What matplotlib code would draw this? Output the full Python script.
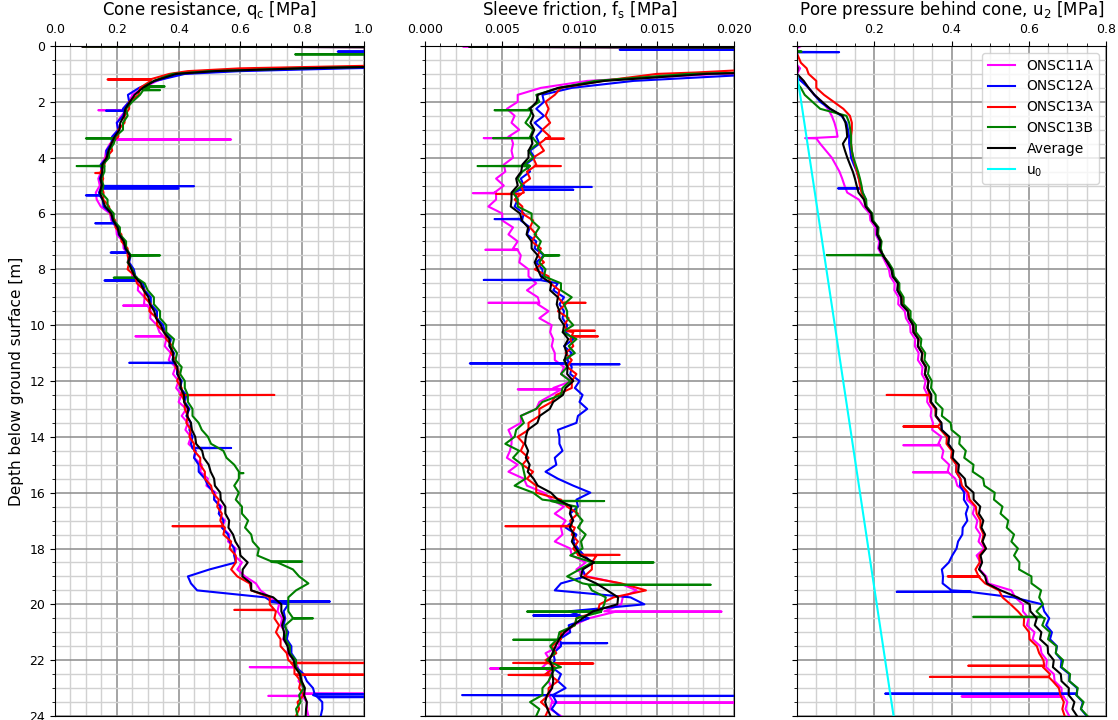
#!/usr/bin/env python

"""
CPT profiles (qc, fs, u2) for the ONSC soundings with the average profile
"""

import numpy as np
import matplotlib
matplotlib.use('Agg')
import matplotlib.pyplot as plt
from matplotlib.ticker import MultipleLocator

# Sounding names and line colours
soundings = ['ONSC11A', 'ONSC12A', 'ONSC13A', 'ONSC13B']
colours   = ['magenta', 'blue', 'red', 'green']

# Regular sampling depths below 1 m [m]
depth_grid = np.arange(1.0, 24.01, 0.25)

#---------------------------------------------------------------------------#
#                    Cone resistance qc [MPa]                               #
#---------------------------------------------------------------------------#

qc_top_z = [0.02, 0.05, 0.6, 0.7, 0.8, 0.9]
qc_top_11A = [0.09, 1.5, 1.5, 1.3, 0.85, 0.55]
qc_top_12A = [0.09, 1.5, 1.5, 1.4, 0.95, 0.60]
qc_top_13A = [0.09, 1.5, 1.5, 1.05, 0.60, 0.43]
qc_top_13B = [0.09, 1.5, 1.5, 1.2, 0.80, 0.50]

qc_11A = [0.40, 0.33, 0.285, 0.25, 0.24, 0.22, 0.215, 0.20,
          0.205, 0.185, 0.178, 0.165, 0.162, 0.148, 0.15, 0.14,
          0.145, 0.132, 0.135, 0.148, 0.178, 0.182, 0.198, 0.20,
          0.22, 0.222, 0.24, 0.235, 0.25, 0.25, 0.27, 0.268,
          0.29, 0.288, 0.31, 0.308, 0.33, 0.338, 0.36, 0.355,
          0.375, 0.368, 0.39, 0.382, 0.40, 0.392, 0.41, 0.40,
          0.425, 0.41, 0.43, 0.422, 0.44, 0.432, 0.455, 0.45,
          0.475, 0.47, 0.495, 0.49, 0.52, 0.515, 0.54, 0.53,
          0.55, 0.54, 0.565, 0.56, 0.585, 0.58, 0.605, 0.59,
          0.615, 0.65, 0.665, 0.695, 0.725, 0.72, 0.735, 0.73,
          0.745, 0.738, 0.755, 0.752, 0.775, 0.772, 0.795, 0.788,
          0.805, 0.795, 0.815, 0.815, 0.82]
qc_12A = [0.42, 0.325, 0.272, 0.236, 0.24, 0.22, 0.22, 0.20,
          0.205, 0.185, 0.182, 0.166, 0.168, 0.148, 0.153, 0.145,
          0.153, 0.142, 0.154, 0.157, 0.182, 0.186, 0.205, 0.206,
          0.225, 0.226, 0.245, 0.24, 0.255, 0.26, 0.285, 0.29,
          0.31, 0.31, 0.33, 0.33, 0.35, 0.355, 0.375, 0.37,
          0.385, 0.38, 0.395, 0.395, 0.41, 0.405, 0.425, 0.42,
          0.435, 0.425, 0.44, 0.435, 0.445, 0.44, 0.455, 0.45,
          0.465, 0.465, 0.485, 0.495, 0.515, 0.515, 0.535, 0.53,
          0.545, 0.54, 0.56, 0.565, 0.58, 0.58, 0.585, 0.50,
          0.43, 0.44, 0.46, 0.68, 0.755, 0.74, 0.745, 0.74,
          0.755, 0.75, 0.765, 0.765, 0.78, 0.78, 0.805, 0.815,
          0.835, 0.835, 0.865, 0.865, 0.86]
qc_13A = [0.37, 0.31, 0.275, 0.27, 0.24, 0.24, 0.225, 0.225,
          0.205, 0.205, 0.18, 0.185, 0.165, 0.16, 0.148, 0.156,
          0.15, 0.157, 0.156, 0.175, 0.178, 0.195, 0.196, 0.215,
          0.215, 0.235, 0.235, 0.24, 0.235, 0.26, 0.265, 0.29,
          0.29, 0.31, 0.305, 0.33, 0.33, 0.355, 0.36, 0.38,
          0.375, 0.39, 0.39, 0.405, 0.395, 0.41, 0.405, 0.42,
          0.42, 0.43, 0.425, 0.44, 0.435, 0.45, 0.45, 0.47,
          0.47, 0.485, 0.485, 0.505, 0.51, 0.53, 0.525, 0.54,
          0.535, 0.55, 0.545, 0.57, 0.565, 0.585, 0.585, 0.57,
          0.59, 0.63, 0.635, 0.695, 0.695, 0.715, 0.71, 0.725,
          0.715, 0.73, 0.73, 0.75, 0.755, 0.775, 0.775, 0.795,
          0.79, 0.805, 0.785, 0.79, 0.78]
qc_13B = [0.38, 0.32, 0.305, 0.275, 0.25, 0.23, 0.235, 0.22,
          0.22, 0.195, 0.19, 0.175, 0.175, 0.155, 0.16, 0.15,
          0.157, 0.15, 0.17, 0.17, 0.19, 0.19, 0.21, 0.21,
          0.23, 0.23, 0.25, 0.235, 0.25, 0.26, 0.29, 0.30,
          0.32, 0.32, 0.34, 0.34, 0.36, 0.36, 0.385, 0.38,
          0.395, 0.39, 0.41, 0.405, 0.42, 0.42, 0.43, 0.43,
          0.445, 0.445, 0.465, 0.475, 0.495, 0.505, 0.545, 0.555,
          0.58, 0.595, 0.595, 0.58, 0.595, 0.585, 0.605, 0.605,
          0.625, 0.615, 0.635, 0.64, 0.66, 0.655, 0.72, 0.77,
          0.79, 0.82, 0.78, 0.755, 0.755, 0.755, 0.775, 0.745,
          0.75, 0.745, 0.76, 0.76, 0.78, 0.78, 0.795, 0.795,
          0.805, 0.79, 0.795, 0.78, 0.785]

# Thin layers / spikes: (depth, peak value, value either side)
qc_11A_spk = [(2.3, 0.14, 0.23), (3.35, 0.57, 0.195), (9.3, 0.22, 0.30),
              (10.4, 0.26, 0.35), (22.25, 0.63, 0.785), (23.2, 1.2, 0.80),
              (23.28, 0.69, 0.80)]
qc_12A_spk = [(0.2, 0.915, 1.5), (2.32, 0.165, 0.225), (5.02, 0.45, 0.15),
              (5.1, 0.40, 0.148), (5.35, 0.10, 0.145), (6.35, 0.13, 0.19),
              (7.4, 0.18, 0.235), (8.4, 0.16, 0.27), (11.35, 0.24, 0.385),
              (14.4, 0.57, 0.445), (19.9, 0.89, 0.70), (23.22, 1.2, 0.84),
              (23.32, 1.2, 0.85)]
qc_13A_spk = [(1.2, 0.17, 0.31), (4.55, 0.13, 0.152), (12.5, 0.71, 0.41),
              (17.2, 0.38, 0.545), (20.2, 0.58, 0.71), (22.1, 1.2, 0.765),
              (22.52, 1.2, 0.78)]
qc_13B_spk = [(0.3, 0.777, 1.5), (1.45, 0.355, 0.29), (1.58, 0.34, 0.285),
              (3.31, 0.10, 0.195), (4.3, 0.07, 0.16), (7.5, 0.34, 0.245),
              (8.3, 0.19, 0.265), (15.3, 0.61, 0.595), (18.47, 0.80, 0.70),
              (20.5, 0.835, 0.77)]

#---------------------------------------------------------------------------#
#                    Sleeve friction fs [kPa]                               #
#---------------------------------------------------------------------------#

fs_top_z = [0.03, 0.06, 0.85, 0.95]
fs_top_11A = [2.5, 25.0, 25.0, 24.0]
fs_top_12A = [3.0, 25.0, 25.0, 25.0]
fs_top_13A = [3.0, 25.0, 21.0, 17.5]
fs_top_13B = [3.0, 25.0, 24.0, 21.0]

fs_11A = [19.0, 10.5, 7.5, 6.0, 6.0, 5.3, 5.8, 5.6,
          6.1, 5.4, 5.7, 5.6, 5.7, 5.1, 5.2, 4.6,
          5.1, 4.5, 4.6, 4.1, 5.0, 5.0, 5.7, 5.4,
          6.0, 5.7, 6.2, 6.1, 6.7, 6.7, 7.2, 6.6,
          7.3, 7.3, 8.0, 7.4, 8.2, 8.1, 8.3, 8.2,
          8.4, 8.4, 9.0, 8.8, 9.5, 8.3, 8.2, 7.4,
          7.2, 6.2, 6.2, 5.4, 5.6, 5.6, 5.5, 5.3,
          6.0, 5.4, 6.4, 6.6, 7.7, 8.2, 9.0, 8.4,
          9.1, 8.8, 8.9, 8.4, 9.4, 9.5, 10.4, 9.8,
          10.5, 12.6, 13.7, 12.8, 12.7, 11.6, 10.6, 9.6,
          9.2, 8.6, 8.7, 7.8, 8.1, 7.6, 8.2, 8.0,
          8.2, 8.0, 8.3, 8.1, 8.8]
fs_12A = [22.0, 13.5, 9.5, 7.6, 7.7, 7.2, 7.7, 7.1,
          7.6, 7.2, 7.4, 6.8, 7.1, 6.5, 6.8, 6.2,
          6.4, 5.8, 6.0, 5.8, 6.4, 6.2, 6.8, 6.6,
          7.2, 7.1, 7.7, 7.2, 7.6, 7.6, 8.6, 8.3,
          9.0, 8.7, 9.0, 8.9, 9.2, 9.1, 9.6, 9.0,
          9.5, 9.2, 9.5, 9.4, 10.0, 9.7, 10.2, 10.0,
          10.5, 9.9, 9.8, 8.6, 8.7, 8.7, 8.9, 8.4,
          8.5, 7.8, 8.6, 9.6, 10.7, 9.8, 9.9, 9.4,
          9.6, 9.1, 9.8, 9.6, 9.9, 10.3, 10.8, 10.2,
          10.4, 8.8, 8.4, 13.3, 14.2, 9.3, 10.6, 9.3,
          9.4, 8.7, 8.8, 8.3, 8.4, 8.2, 8.8, 8.6,
          9.1, 8.0, 8.5, 8.2, 8.7]
fs_13A = [15.0, 11.5, 8.8, 8.4, 7.8, 8.0, 7.8, 8.1,
          7.6, 8.1, 7.4, 7.7, 7.0, 7.2, 6.6, 6.8,
          6.2, 6.4, 5.8, 6.3, 6.3, 7.0, 6.8, 7.2,
          6.9, 7.5, 7.3, 7.7, 7.1, 8.0, 8.1, 8.7,
          8.6, 9.1, 8.6, 9.3, 9.0, 9.6, 9.4, 9.6,
          9.1, 9.5, 9.2, 9.8, 9.5, 9.5, 8.5, 8.2,
          7.4, 7.4, 6.7, 6.7, 6.0, 6.4, 6.2, 6.7,
          6.3, 7.0, 6.6, 7.2, 7.2, 8.8, 9.2, 9.9,
          9.4, 9.7, 9.5, 9.9, 9.6, 11.1, 10.8, 10.8,
          10.3, 12.7, 14.3, 12.2, 11.3, 11.2, 9.8, 9.7,
          8.8, 8.8, 8.2, 8.5, 7.8, 8.4, 7.8, 8.6,
          8.0, 8.0, 7.5, 8.0, 7.8]
fs_13B = [17.0, 11.0, 8.7, 7.2, 7.4, 6.7, 6.8, 6.5,
          7.0, 6.8, 7.3, 6.7, 7.0, 6.4, 6.3, 6.0,
          6.3, 5.7, 6.0, 6.0, 6.9, 6.9, 7.4, 7.1,
          7.5, 7.3, 8.0, 7.4, 7.8, 7.7, 8.8, 8.8,
          9.5, 9.0, 9.2, 9.2, 9.6, 8.9, 9.8, 9.3,
          9.7, 9.0, 9.2, 8.8, 9.4, 8.9, 8.8, 7.6,
          7.2, 6.2, 6.4, 5.9, 5.8, 5.2, 6.1, 5.7,
          6.3, 6.4, 6.5, 5.8, 7.0, 7.6, 9.8, 9.8,
          10.2, 9.9, 10.4, 10.1, 10.2, 9.4, 11.8, 10.0,
          9.2, 10.2, 10.8, 11.7, 11.6, 11.4, 9.8, 9.7,
          8.7, 8.6, 8.1, 8.4, 7.9, 8.8, 8.2, 8.0,
          7.6, 7.6, 6.8, 7.4, 7.2]

fs_11A_spk = [(3.3, 3.8, 5.6), (5.27, 3.1, 4.6), (7.3, 3.9, 6.0),
              (9.2, 4.1, 7.4), (12.3, 6.0, 8.8), (20.26, 19.2, 12.3),
              (22.3, 4.2, 7.8), (23.52, 25.0, 8.2)]
fs_12A_spk = [(0.13, 12.6, 25.0), (5.05, 10.8, 6.2), (5.15, 9.6, 6.1),
              (6.2, 4.5, 6.3), (8.38, 3.8, 7.5), (11.37, 2.9, 9.4),
              (11.4, 12.6, 9.4), (20.4, 7.0, 10.0), (21.39, 11.8, 8.8),
              (23.25, 2.4, 8.3), (23.28, 25.0, 8.3)]
fs_13A_spk = [(3.32, 9.0, 7.8), (4.3, 8.8, 7.1), (5.3, 4.6, 6.2),
              (9.2, 10.4, 8.9), (10.2, 11.0, 9.2), (10.4, 11.2, 9.5),
              (17.2, 5.2, 9.5), (18.23, 12.6, 9.9), (22.1, 5.7, 8.1),
              (22.12, 10.9, 8.1), (22.53, 5.4, 8.1)]
fs_13B_spk = [(2.3, 4.5, 6.9), (3.3, 4.4, 7.0), (4.3, 3.4, 6.8),
              (7.5, 8.7, 7.7), (16.3, 11.6, 8.2), (18.5, 14.8, 10.8),
              (19.3, 18.5, 10.6), (20.26, 6.6, 11.4), (21.27, 5.7, 8.5),
              (22.3, 4.85, 8.4)]

#---------------------------------------------------------------------------#
#                    Pore pressure u2 [MPa]                                 #
#---------------------------------------------------------------------------#

u2_top_z = [0.02, 0.1, 0.6, 0.8]
u2_top_11A = [0.008, -0.005, -0.005, 0.008]
u2_top_12A = [0.0, -0.005, -0.01, -0.01]
u2_top_13A = [0.0, -0.005, 0.01, 0.025]
u2_top_13B = [0.0, 0.0, -0.01, -0.015]

u2_11A = [0.0, 0.015, 0.03, 0.045, 0.065, 0.08, 0.09, 0.097,
          0.102, 0.105, 0.06, 0.075, 0.09, 0.10, 0.11, 0.117,
          0.123, 0.13, 0.16, 0.172, 0.188, 0.19, 0.203, 0.204,
          0.213, 0.21, 0.22, 0.229, 0.238, 0.241, 0.253, 0.252,
          0.263, 0.262, 0.279, 0.282, 0.293, 0.294, 0.306, 0.305,
          0.315, 0.313, 0.325, 0.323, 0.333, 0.329, 0.338, 0.337,
          0.348, 0.346, 0.352, 0.35, 0.374, 0.366, 0.379, 0.375,
          0.394, 0.39, 0.41, 0.415, 0.44, 0.44, 0.46, 0.455,
          0.467, 0.463, 0.475, 0.47, 0.485, 0.465, 0.475, 0.473,
          0.49, 0.495, 0.555, 0.565, 0.585, 0.585, 0.60, 0.595,
          0.615, 0.61, 0.63, 0.633, 0.647, 0.645, 0.665, 0.667,
          0.685, 0.685, 0.70, 0.695, 0.705]
u2_12A = [-0.01, 0.01, 0.03, 0.045, 0.06, 0.085, 0.115, 0.128,
          0.132, 0.135, 0.135, 0.138, 0.14, 0.147, 0.155, 0.16,
          0.165, 0.17, 0.178, 0.179, 0.193, 0.195, 0.209, 0.207,
          0.216, 0.213, 0.223, 0.234, 0.245, 0.249, 0.263, 0.26,
          0.27, 0.271, 0.287, 0.29, 0.301, 0.302, 0.314, 0.313,
          0.324, 0.323, 0.334, 0.331, 0.34, 0.338, 0.347, 0.346,
          0.36, 0.359, 0.373, 0.375, 0.393, 0.392, 0.403, 0.402,
          0.413, 0.412, 0.423, 0.422, 0.433, 0.432, 0.443, 0.437,
          0.441, 0.429, 0.428, 0.417, 0.413, 0.402, 0.393, 0.375,
          0.378, 0.377, 0.40, 0.56, 0.635, 0.64, 0.653, 0.645,
          0.66, 0.655, 0.673, 0.67, 0.685, 0.683, 0.705, 0.705,
          0.725, 0.723, 0.74, 0.735, 0.75]
u2_13A = [0.03, 0.05, 0.05, 0.07, 0.095, 0.12, 0.137, 0.142,
          0.142, 0.14, 0.14, 0.142, 0.145, 0.15, 0.155, 0.16,
          0.163, 0.167, 0.176, 0.179, 0.193, 0.195, 0.21, 0.209,
          0.218, 0.214, 0.223, 0.235, 0.246, 0.249, 0.263, 0.262,
          0.271, 0.272, 0.288, 0.291, 0.301, 0.302, 0.315, 0.313,
          0.325, 0.323, 0.334, 0.331, 0.34, 0.338, 0.347, 0.345,
          0.358, 0.359, 0.373, 0.372, 0.388, 0.387, 0.401, 0.399,
          0.413, 0.412, 0.423, 0.427, 0.443, 0.447, 0.463, 0.465,
          0.475, 0.475, 0.483, 0.479, 0.488, 0.472, 0.473, 0.462,
          0.473, 0.487, 0.523, 0.532, 0.553, 0.572, 0.588, 0.587,
          0.601, 0.602, 0.621, 0.627, 0.638, 0.637, 0.655, 0.662,
          0.678, 0.682, 0.691, 0.687, 0.693]
u2_13B = [-0.02, -0.005, 0.01, 0.02, 0.04, 0.06, 0.128, 0.135,
          0.138, 0.14, 0.14, 0.142, 0.146, 0.152, 0.158, 0.163,
          0.167, 0.17, 0.179, 0.18, 0.195, 0.197, 0.211, 0.21,
          0.219, 0.217, 0.225, 0.237, 0.248, 0.251, 0.265, 0.265,
          0.276, 0.276, 0.294, 0.294, 0.308, 0.308, 0.322, 0.32,
          0.332, 0.33, 0.342, 0.339, 0.349, 0.347, 0.359, 0.359,
          0.377, 0.375, 0.398, 0.40, 0.422, 0.42, 0.437, 0.433,
          0.457, 0.455, 0.482, 0.485, 0.512, 0.51, 0.532, 0.527,
          0.547, 0.543, 0.562, 0.555, 0.572, 0.562, 0.576, 0.575,
          0.607, 0.607, 0.632, 0.627, 0.637, 0.62, 0.642, 0.635,
          0.655, 0.65, 0.672, 0.67, 0.689, 0.685, 0.707, 0.705,
          0.727, 0.723, 0.742, 0.735, 0.752]

u2_11A_spk = [(3.3, 0.021, 0.05), (14.3, 0.275, 0.37), (15.27, 0.30, 0.392),
              (23.3, 0.426, 0.69)]
u2_12A_spk = [(0.22, 0.109, -0.006), (5.1, 0.106, 0.167), (19.55, 0.258, 0.45),
              (23.2, 0.228, 0.725)]
u2_13A_spk = [(12.5, 0.232, 0.343), (13.63, 0.275, 0.365), (19.0, 0.39, 0.47),
              (22.2, 0.443, 0.64), (22.6, 0.344, 0.652)]
u2_13B_spk = [(0.2, 0.012, 0.0), (7.49, 0.077, 0.222), (20.45, 0.456, 0.634)]

# Hydrostatic pore pressure u0 [MPa]
u0_z = [1.0, 24.0]
u0   = [0.0, 0.25]


def profile(top_z, top_v, grid_v, spikes, scale=1.0):
    """Join the near-surface readings, the regular readings and the spikes"""
    z = list(top_z) + list(depth_grid)
    v = list(top_v) + list(grid_v)
    for d, peak, base in spikes:
        z += [d - 0.01, d, d + 0.01]
        v += [base, peak, base]
    order = np.argsort(z, kind='stable')
    return np.array(z)[order], np.array(v)[order] * scale


def average(top_z, tops, grids, scale=1.0):
    z = np.concatenate([top_z, depth_grid])
    v = np.mean([np.concatenate([t, g]) for t, g in zip(tops, grids)], axis=0)
    return z, v * scale


panels = [
    dict(title=r'Cone resistance, $\mathregular{q_c}$ [MPa]', xlim=(0, 1.0),
         major=0.2, minor=0.05, scale=1.0, top_z=qc_top_z,
         tops=[qc_top_11A, qc_top_12A, qc_top_13A, qc_top_13B],
         grids=[qc_11A, qc_12A, qc_13A, qc_13B],
         spikes=[qc_11A_spk, qc_12A_spk, qc_13A_spk, qc_13B_spk]),
    dict(title=r'Sleeve friction, $\mathregular{f_s}$ [MPa]', xlim=(0, 0.02),
         major=0.005, minor=0.001, scale=1e-3, top_z=fs_top_z,
         tops=[fs_top_11A, fs_top_12A, fs_top_13A, fs_top_13B],
         grids=[fs_11A, fs_12A, fs_13A, fs_13B],
         spikes=[fs_11A_spk, fs_12A_spk, fs_13A_spk, fs_13B_spk]),
    dict(title=r'Pore pressure behind cone, $\mathregular{u_2}$ [MPa]', xlim=(0, 0.8),
         major=0.2, minor=0.05, scale=1.0, top_z=u2_top_z,
         tops=[u2_top_11A, u2_top_12A, u2_top_13A, u2_top_13B],
         grids=[u2_11A, u2_12A, u2_13A, u2_13B],
         spikes=[u2_11A_spk, u2_12A_spk, u2_13A_spk, u2_13B_spk]),
]

fig = plt.figure(figsize=(11.18, 7.2), dpi=100)
lefts = [55/1118, 425/1118, 797/1118]
width, bottom, height = 309/1118, 4/720, 670/720

axes = []
for i, p in enumerate(panels):
    ax = fig.add_axes([lefts[i], bottom, width, height],
                      sharey=axes[0] if axes else None)
    axes.append(ax)

    for name, col, top, grid, spk in zip(soundings, colours, p['tops'],
                                         p['grids'], p['spikes']):
        z, v = profile(p['top_z'], top, grid, spk, p['scale'])
        ax.plot(v, z, '-', color=col, lw=1.5, label=name)
    z, v = average(p['top_z'], p['tops'], p['grids'], p['scale'])
    ax.plot(v, z, 'k-', lw=1.5, label='Average')

    # Axes
    ax.set_xlim(p['xlim'])
    ax.xaxis.set_major_locator(MultipleLocator(p['major']))
    ax.xaxis.set_minor_locator(MultipleLocator(p['minor']))
    ax.yaxis.set_major_locator(MultipleLocator(2))
    ax.yaxis.set_minor_locator(MultipleLocator(0.5))
    ax.xaxis.tick_top()
    ax.xaxis.set_label_position('top')
    ax.tick_params(which='both', labelsize=9)
    ax.grid(which='major', color='0.55', lw=1.1)
    ax.grid(which='minor', color='0.82', lw=1.0)
    ax.set_axisbelow(True)
    ax.set_title(p['title'], fontsize=12)
    if i > 0:
        ax.tick_params(axis='y', labelleft=False)

axes[0].set_ylim(24, 0)
axes[0].set_ylabel('Depth below ground surface [m]', fontsize=11)

# Hydrostatic line and legend
axes[2].plot(u0, u0_z, '-', color='cyan', lw=1.5, label=r'$\mathregular{u_0}$')
axes[2].legend(loc='upper right', fontsize=10)

plt.savefig('out.png', dpi=100)
